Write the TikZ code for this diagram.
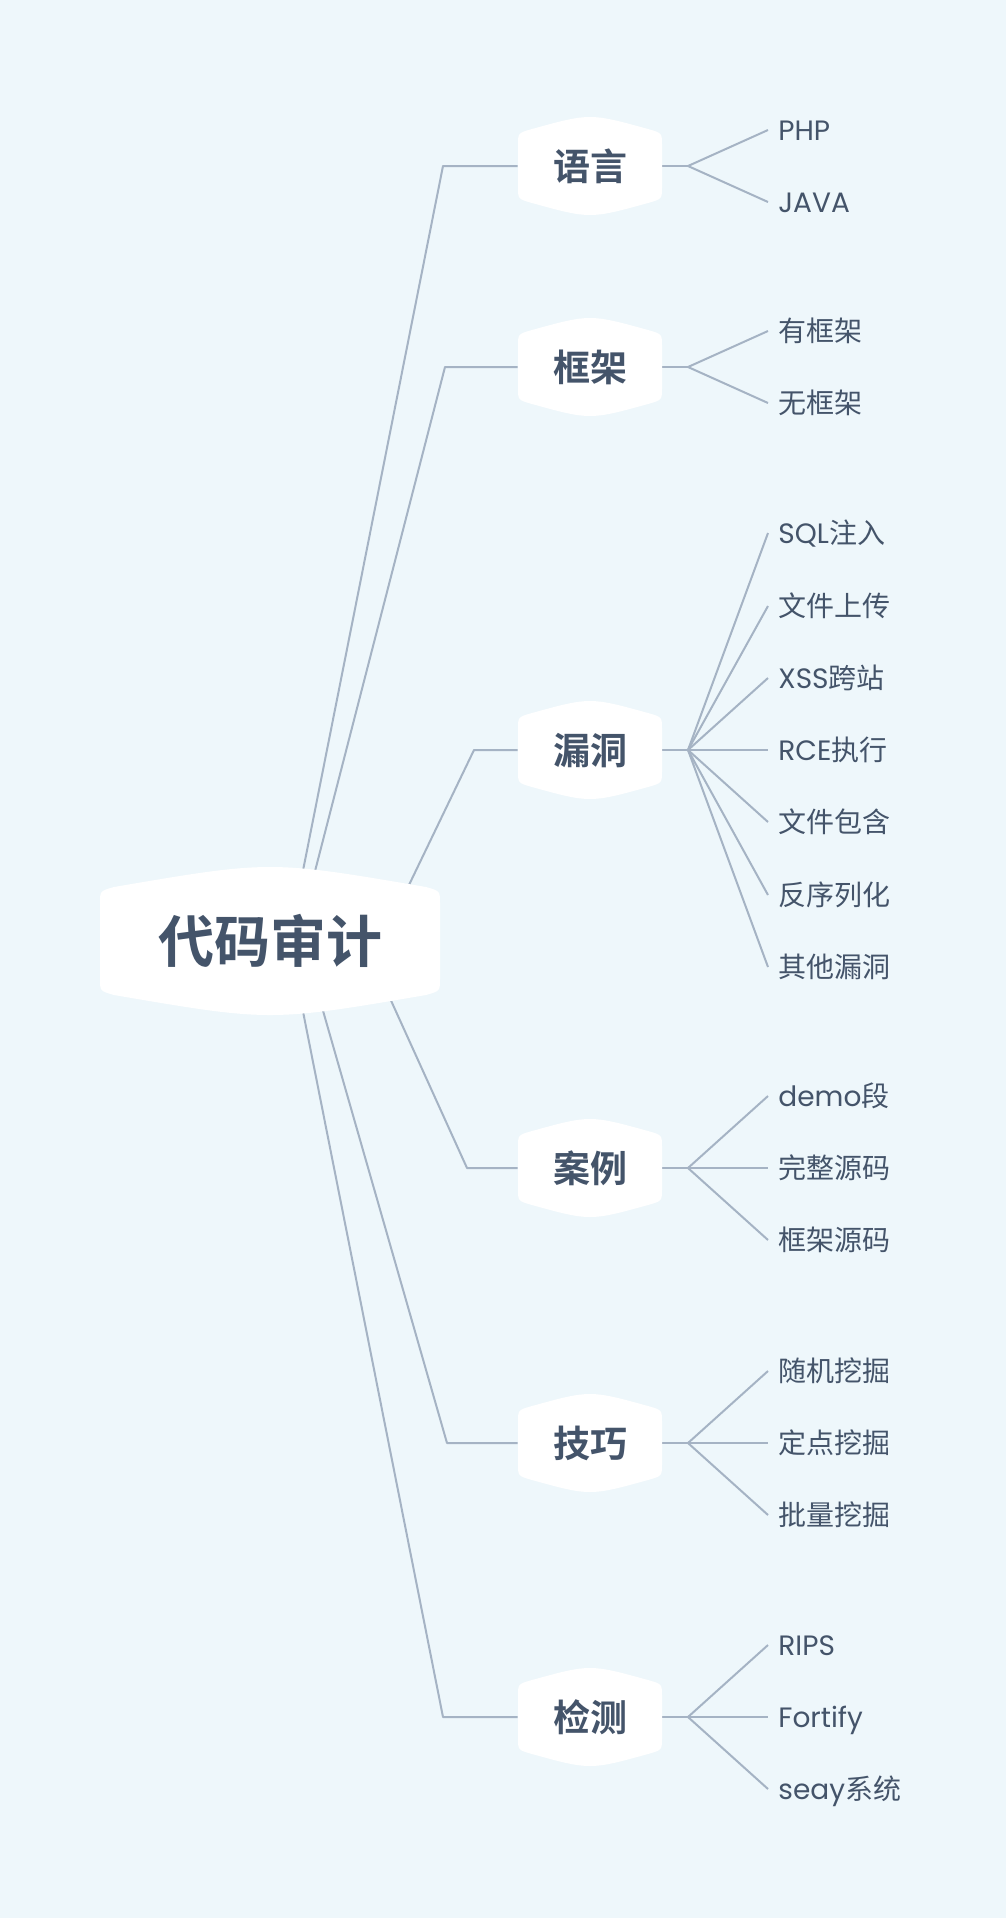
\documentclass[tikz,border=0pt]{standalone}
\usepackage{fontspec}
\setmainfont{Poppins}
\newfontfamily\cjk{Noto Sans CJK SC}[BoldFont={Noto Sans CJK SC Bold}]
\newfontfamily\latf{Poppins}
\newcommand\lat[1]{{\latf #1}}
\usetikzlibrary{calc}
\definecolor{bgc}{RGB}{238,247,251}
\definecolor{txt}{RGB}{68,84,106}
\definecolor{ln}{RGB}{165,179,196}
\pgfdeclarelayer{back}\pgfdeclarelayer{bg}\pgfdeclarelayer{shp}\pgfsetlayers{back,bg,shp,main}
\newcommand\blob[5]{% cx cy hw hs hh
  \pgfmathsetmacro\xl{#1-#3}\pgfmathsetmacro\xr{#1+#3}%
  \pgfmathsetmacro\xli{#1-#3+14}\pgfmathsetmacro\xri{#1+#3-14}%
  \pgfmathsetmacro\ya{#2-#4}\pgfmathsetmacro\yai{#2-#4+12}%
  \pgfmathsetmacro\yb{#2+#4}\pgfmathsetmacro\ybi{#2+#4-12}%
  \pgfmathsetmacro\yat{#2-#4-4}\pgfmathsetmacro\ybt{#2+#4+4}%
  \pgfmathsetmacro\yc{#2-#4-4-1.3333*(#5-#4-4)}%
  \pgfmathsetmacro\yd{#2+#4+4+1.3333*(#5-#4-4)}%
  \fill[white] (\xl,\yai) .. controls (\xl,\ya) .. (\xli,\yat)
    .. controls (#1,\yc) .. (\xri,\yat)
    .. controls (\xr,\ya) .. (\xr,\yai) -- (\xr,\ybi)
    .. controls (\xr,\yb) .. (\xri,\ybt)
    .. controls (#1,\yd) .. (\xli,\ybt)
    .. controls (\xl,\yb) .. (\xl,\ybi) -- cycle;
}
\begin{document}
\begin{tikzpicture}[x=0.5pt,y=-0.5pt,
  conn/.style={draw=ln,line width=1pt,line join=round},
  rootnode/.style={font=\cjk\bfseries\fontsize{28}{34}\selectfont,text=txt,
    minimum width=170pt,minimum height=74pt,inner sep=0pt,text height=24.6pt,text depth=3.4pt},
  branchnode/.style={font=\cjk\bfseries\fontsize{18.5}{22}\selectfont,text=txt,
    minimum width=72pt,minimum height=49pt,inner sep=0pt,text height=16.3pt,text depth=2.2pt},
  leafnode/.style={font=\cjk\fontsize{14}{17}\selectfont,text=txt,anchor=west,
    inner xsep=5pt,inner ysep=0pt,text height=12.3pt,text depth=1.7pt}]
\begin{pgfonlayer}{back}
\fill[bgc] (0,0) rectangle (1006,1918);
\end{pgfonlayer}
\useasboundingbox (0,0) rectangle (1006,1918);

% root and branches
\node[rootnode] (root) at (270,941) {代码审计};
\node[branchnode] (b1) at (590,166) {语言};
\node[branchnode] (b2) at (590,367) {框架};
\node[branchnode] (b3) at (590,750) {漏洞};
\node[branchnode] (b4) at (590,1168) {案例};
\node[branchnode] (b5) at (590,1443) {技巧};
\node[branchnode] (b6) at (590,1717) {检测};

% leaves
\node[leafnode] (l1a) at (768,130) {\lat{PHP}};
\node[leafnode] (l1b) at (768,202) {\lat{JAVA}};
\node[leafnode] (l2a) at (768,331) {有框架};
\node[leafnode] (l2b) at (768,403) {无框架};
\node[leafnode] (l3a) at (768,533) {\lat{SQL}注入};
\node[leafnode] (l3b) at (768,606) {文件上传};
\node[leafnode] (l3c) at (768,678) {\lat{XSS}跨站};
\node[leafnode] (l3d) at (768,750) {\lat{RCE}执行};
\node[leafnode] (l3e) at (768,822) {文件包含};
\node[leafnode] (l3f) at (768,895) {反序列化};
\node[leafnode] (l3g) at (768,967) {其他漏洞};
\node[leafnode] (l4a) at (768,1096) {\lat{demo}段};
\node[leafnode] (l4b) at (768,1168) {完整源码};
\node[leafnode] (l4c) at (768,1240) {框架源码};
\node[leafnode] (l5a) at (768,1371) {随机挖掘};
\node[leafnode] (l5b) at (768,1443) {定点挖掘};
\node[leafnode] (l5c) at (768,1515) {批量挖掘};
\node[leafnode] (l6a) at (768,1645) {\lat{RIPS}};
\node[leafnode] (l6b) at (768,1717) {\lat{Fortify}};
\node[leafnode] (l6c) at (768,1789) {\lat{seay}系统};

% helper coordinates
\coordinate (s1) at (289,941); \coordinate (e1) at (443,166);
\coordinate (s2) at (297,941); \coordinate (e2) at (445,367);
\coordinate (s3) at (382,941); \coordinate (e3) at (474,750);
\coordinate (s4) at (364,941); \coordinate (e4) at (467,1168);
\coordinate (s5) at (303,941); \coordinate (e5) at (447,1443);
\coordinate (s6) at (289,941); \coordinate (e6) at (443,1717);
\foreach \i/\y in {1/166,2/367,3/750,4/1168,5/1443,6/1717}
  \coordinate (f\i) at (688,\y);

\begin{pgfonlayer}{shp}
\blob{270}{941}{170}{50}{74}
\foreach \y in {166,367,750,1168,1443,1717} {\blob{590}{\y}{72}{33}{49}}
\end{pgfonlayer}

\begin{pgfonlayer}{bg}
\foreach \i in {1,...,6} {\draw[conn] (s\i) -- (e\i) -- (b\i.west); \draw[conn] (b\i.east) -- (f\i);}
\foreach \l in {a,b} {\draw[conn] (f1) -- (l1\l.west); \draw[conn] (f2) -- (l2\l.west);}
\foreach \l in {a,b,c,d,e,f,g} {\draw[conn] (f3) -- (l3\l.west);}
\foreach \l in {a,b,c} {\draw[conn] (f4) -- (l4\l.west); \draw[conn] (f5) -- (l5\l.west); \draw[conn] (f6) -- (l6\l.west);}
\end{pgfonlayer}
\end{tikzpicture}
\end{document}
